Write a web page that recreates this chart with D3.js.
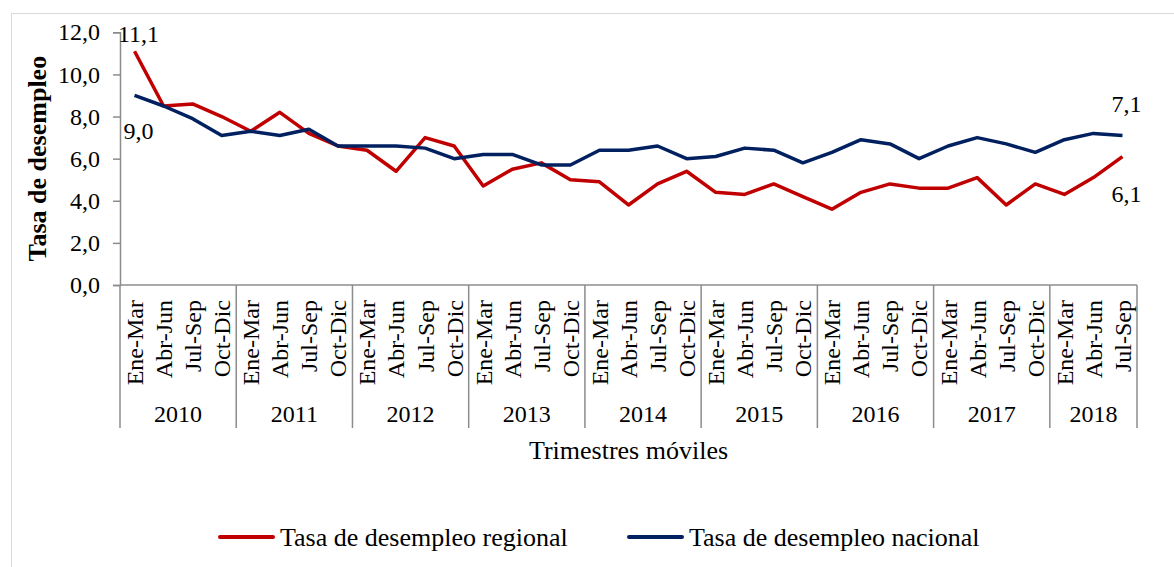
<!DOCTYPE html>
<html>
<head>
<meta charset="utf-8">
<script src="https://cdn.jsdelivr.net/npm/d3@7"></script>
<style>
  body { margin: 0; background: #fff; }
</style>
</head>
<body>
<svg id="chart" width="1174" height="567"></svg>
<script>
// tasa de desempleo por trimestre movil, 2010 Ene-Mar .. 2018 Jul-Sep
const years = ["2010", "2011", "2012", "2013", "2014", "2015", "2016", "2017", "2018"];
const quarterLabels = ["Ene-Mar", "Abr-Jun", "Jul-Sep", "Oct-Dic"];
const quartersPerYear = [4, 4, 4, 4, 4, 4, 4, 4, 3];

const regional = [
  11.1, 8.5, 8.6, 8.0,
  7.3, 8.2, 7.2, 6.6,
  6.4, 5.4, 7.0, 6.6,
  4.7, 5.5, 5.8, 5.0,
  4.9, 3.8, 4.8, 5.4,
  4.4, 4.3, 4.8, 4.2,
  3.6, 4.4, 4.8, 4.6,
  4.6, 5.1, 3.8, 4.8,
  4.3, 5.1, 6.1
];
const nacional = [
  9.0, 8.5, 7.9, 7.1,
  7.3, 7.1, 7.4, 6.6,
  6.6, 6.6, 6.5, 6.0,
  6.2, 6.2, 5.7, 5.7,
  6.4, 6.4, 6.6, 6.0,
  6.1, 6.5, 6.4, 5.8,
  6.3, 6.9, 6.7, 6.0,
  6.6, 7.0, 6.7, 6.3,
  6.9, 7.2, 7.1
];
const yTicks = [0, 2, 4, 6, 8, 10, 12];

// build category list from years / quarters
const cats = [];
years.forEach((yr, i) => {
  for (let q = 0; q < quartersPerYear[i]; q++) cats.push({ year: yr, q: quarterLabels[q], idx: cats.length });
});

const FONT = "'Liberation Serif', Tinos, 'Times New Roman', Times, serif";

const svg = d3.select("#chart")
  .attr("font-family", FONT);
const m = { left: 120, right: 1137, top: 32.3, bottom: 285 };
const fmt = v => v.toFixed(1).replace(".", ",");
const axisGray = "#8c8c8c";

// outer frame
svg.append("rect")
  .attr("x", 11.5).attr("y", 13.5)
  .attr("width", 1200).attr("height", 600)
  .attr("fill", "none")
  .attr("stroke", "#d9d9d9");

const x = d3.scaleBand()
  .domain(cats.map(d => d.idx))
  .range([m.left, m.right])
  .padding(0);

const y = d3.scaleLinear()
  .domain([0, 12])
  .range([m.bottom, m.top]);

// y axis
const yAxis = svg.append("g")
  .attr("transform", `translate(${m.left},0)`)
  .call(d3.axisLeft(y).tickValues(yTicks).tickFormat(fmt).tickSize(7).tickPadding(13))
  .attr("font-family", FONT)
  .attr("font-size", 24);
yAxis.select(".domain").attr("stroke", axisGray).attr("stroke-width", 1.5);
yAxis.selectAll(".tick line").attr("stroke", axisGray).attr("stroke-width", 1.5);
yAxis.selectAll(".tick text").attr("fill", "#000");

// x axis baseline
svg.append("line")
  .attr("x1", m.left).attr("x2", m.right)
  .attr("y1", m.bottom).attr("y2", m.bottom)
  .attr("stroke", axisGray).attr("stroke-width", 1.5);

// year separators
const yearStarts = [];
let acc = 0;
quartersPerYear.forEach(n => { yearStarts.push(acc); acc += n; });
const sepX = yearStarts.map(i => x(i)).concat([m.right]);
svg.selectAll(".sep").data(sepX).join("line")
  .attr("x1", d => d).attr("x2", d => d)
  .attr("y1", m.bottom).attr("y2", 428)
  .attr("stroke", axisGray).attr("stroke-width", 1.5);

// quarter labels (rotated)
svg.selectAll(".qlab").data(cats).join("text")
  .attr("transform", d => `translate(${x(d.idx) + x.bandwidth() / 2},300) rotate(-90)`)
  .attr("text-anchor", "end")
  .attr("dy", "0.35em")
  .attr("font-size", 24)
  .text(d => d.q);

// year labels
svg.selectAll(".ylab").data(years).join("text")
  .attr("x", (d, i) => (sepX[i] + sepX[i + 1]) / 2)
  .attr("y", 422)
  .attr("text-anchor", "middle")
  .attr("font-size", 24)
  .text(d => d);

// axis titles
svg.append("text")
  .attr("x", (m.left + m.right) / 2)
  .attr("y", 459)
  .attr("text-anchor", "middle")
  .attr("font-size", 26)
  .text("Trimestres móviles");

svg.append("text")
  .attr("transform", `translate(37,${(m.top + m.bottom) / 2}) rotate(-90)`)
  .attr("text-anchor", "middle")
  .attr("dy", "0.35em")
  .attr("font-size", 26)
  .attr("font-weight", "bold")
  .text("Tasa de desempleo");

// series
const series = [
  { label: "Tasa de desempleo regional", values: regional, color: "#c00000" },
  { label: "Tasa de desempleo nacional", values: nacional, color: "#002060" },
];

const line = d3.line()
  .x((d, i) => x(i) + x.bandwidth() / 2)
  .y(d => y(d));

series.forEach(s => {
  svg.append("path")
    .datum(s.values)
    .attr("fill", "none")
    .attr("stroke", s.color)
    .attr("stroke-width", 3.5)
    .attr("stroke-linejoin", "round")
    .attr("d", line);
});

// data labels at first and last point
const last = cats.length - 1;
const cx = i => x(i) + x.bandwidth() / 2;
const dataLabels = [
  { i: 0, v: regional[0], dy: -18 },
  { i: 0, v: nacional[0], dy: 35 },
  { i: last, v: nacional[last], dy: -32 },
  { i: last, v: regional[last], dy: 37 },
];
svg.selectAll(".dlab").data(dataLabels).join("text")
  .attr("x", d => cx(d.i) + 4)
  .attr("y", d => y(d.v) + d.dy)
  .attr("dy", "0.35em")
  .attr("text-anchor", "middle")
  .attr("font-size", 24)
  .text(d => fmt(d.v));

// legend
const leg = [
  { s: series[0], x0: 220 },
  { s: series[1], x0: 629 },
];
leg.forEach(l => {
  svg.append("line")
    .attr("x1", l.x0).attr("x2", l.x0 + 53)
    .attr("y1", 537).attr("y2", 537)
    .attr("stroke", l.s.color)
    .attr("stroke-width", 4)
    .attr("stroke-linecap", "round");
  svg.append("text")
    .attr("x", l.x0 + 60)
    .attr("y", 546)
    .attr("font-size", 26)
    .text(l.s.label);
});
</script>
</body>
</html>
